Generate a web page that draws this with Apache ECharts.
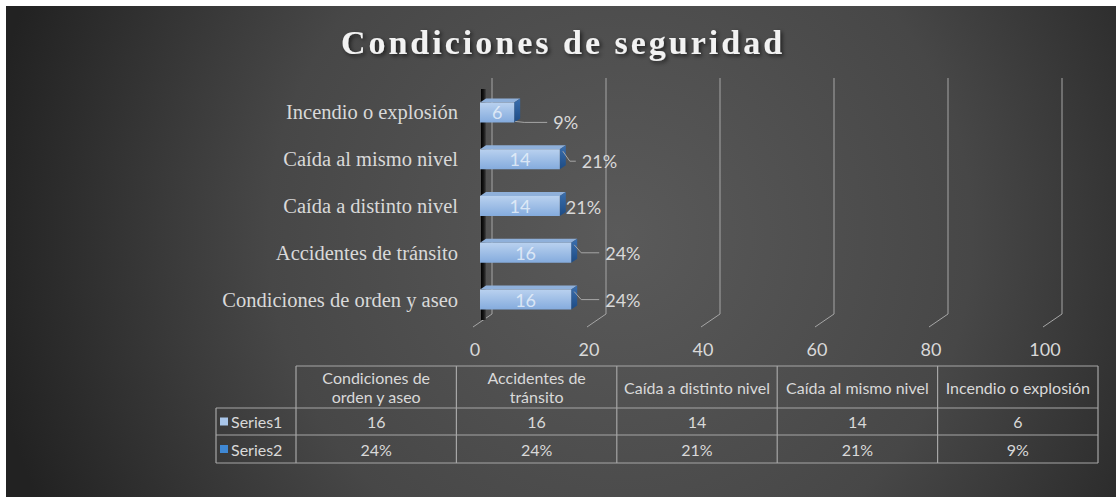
<!DOCTYPE html>
<html lang="es">
<head>
<meta charset="UTF-8">
<title>Condiciones de seguridad</title>
<script src="https://cdn.jsdelivr.net/npm/echarts@6/dist/echarts.min.js"></script>
<style>
  html, body { margin: 0; padding: 0; background: #fff; }
  #main { width: 1116px; height: 497px; }
</style>
</head>
<body>
<div id="main"></div>
<script>
var titleText = 'Condiciones de seguridad';
var categories = ['Condiciones de orden y aseo', 'Accidentes de tránsito', 'Caída a distinto nivel', 'Caída al mismo nivel', 'Incendio o explosión'];
var series1 = [16, 16, 14, 14, 6];
var series2 = [24, 24, 21, 21, 9];   // percent
var xTicks = [0, 20, 40, 60, 80, 100];
var seriesNames = ['Series1', 'Series2'];
// header cells of the data table, wrapped the way Excel wrapped them
var tableHeaders = ['Condiciones de\norden y aseo', 'Accidentes de\ntránsito', 'Caída a distinto nivel', 'Caída al mismo nivel', 'Incendio o explosión'];

// where Excel left each percent label: [dx from bar end, dy from bar centre]
var pctNudge = [[34, 0], [34, 0], [6, 1], [22, 2], [39, 10]];

var sansFont = 'Lato';
var serifFont = '"Liberation Serif"';
var textColor = '#d9d9d9';
var lineColor = '#a6a6a6';

var chart = echarts.init(document.getElementById('main'), null, { renderer: 'svg' });

// 3d wall: vertical lines on the back wall, slanted floor lines, black left wall
function renderWall(params, api) {
  var rect = params.coordSys;
  var v = api.value(0);
  var x = api.coord([v, 0])[0];
  var bx = x + 12;
  var top = rect.y - 11;
  var floor = rect.y + rect.height - 9;
  var children = [{
    type: 'polyline',
    shape: { points: [[bx, top], [bx, floor], [bx - 19, floor + 13]] },
    style: { stroke: lineColor, lineWidth: 1, fill: null }
  }];
  if (v === 0) {
    children.push({
      type: 'rect',
      shape: { x: x + 1, y: rect.y, width: 5, height: rect.height - 3 },
      style: {
        fill: new echarts.graphic.LinearGradient(0, 0, 1, 0, [
          { offset: 0, color: '#000' },
          { offset: 0.6, color: '#1a1a1a' },
          { offset: 1, color: '#444' }
        ])
      }
    });
  }
  return { type: 'group', children: children };
}

function renderBar(params, api) {
  var v = api.value(0);
  var i = api.value(1);
  var p0 = api.coord([0, i]);
  var p1 = api.coord([v, i]);
  var h = 20, dx = 6, dy = 4;
  var x0 = p0[0], x1 = p1[0];
  var yt = p0[1] - h / 2, yb = p0[1] + h / 2;
  return {
    type: 'group',
    children: [
      {
        type: 'polygon',
        shape: { points: [[x0, yt], [x1, yt], [x1 + dx, yt - dy], [x0 + dx, yt - dy]] },
        style: { fill: '#8fb0da' }
      },
      {
        type: 'polygon',
        shape: { points: [[x1, yt], [x1 + dx, yt - dy], [x1 + dx, yb - dy], [x1, yb]] },
        style: {
          fill: new echarts.graphic.LinearGradient(0, 0, 0, 1, [
            { offset: 0, color: '#3b6fae' },
            { offset: 1, color: '#1d4b84' }
          ])
        }
      },
      {
        type: 'rect',
        shape: { x: x0, y: yt, width: x1 - x0, height: h },
        style: {
          fill: new echarts.graphic.LinearGradient(0, 0, 0, 1, [
            { offset: 0, color: '#b9d1ef' },
            { offset: 1, color: '#84abdd' }
          ])
        }
      },
      {
        type: 'text',
        x: (x0 + x1) / 2,
        y: p0[1],
        style: {
          text: String(v),
          fill: 'rgba(236,243,251,0.8)',
          font: '18px ' + sansFont,
          align: 'center',
          verticalAlign: 'middle'
        }
      }
    ]
  };
}

function renderPct(params, api) {
  var i = api.value(1);
  var end = api.coord([api.value(0), i]);
  var nudge = pctNudge[i];
  var x1 = end[0];
  var yc = end[1];
  var ty = yc + nudge[1];
  var children = [];
  if (nudge[0] > 15) {
    var start = nudge[1] > 5 ? [x1 + 1, yc + 9] : [x1 + 3, yc - 8];
    children.push({
      type: 'polyline',
      shape: { points: [start, [x1 + 10, ty], [x1 + nudge[0] - 6, ty]] },
      style: { stroke: lineColor, lineWidth: 1, fill: null }
    });
  }
  children.push({
    type: 'text',
    x: x1 + nudge[0],
    y: ty,
    style: {
      text: api.value(2) + '%',
      fill: textColor,
      font: '18px ' + sansFont,
      align: 'left',
      verticalAlign: 'middle'
    }
  });
  return { type: 'group', children: children };
}

// data table under the plot
var tableLeft = 216, labelRight = 296, colW = 160.4;
var rowY = [366, 408, 435, 463];
var tableRight = labelRight + colW * categories.length;
var tableEls = [];

function hLine(x1, x2, y) {
  tableEls.push({ type: 'line', shape: { x1: x1, y1: y, x2: x2, y2: y }, style: { stroke: lineColor, lineWidth: 1.2 } });
}
function vLine(x, y1, y2) {
  tableEls.push({ type: 'line', shape: { x1: x, y1: y1, x2: x, y2: y2 }, style: { stroke: lineColor, lineWidth: 1.2 } });
}
function cellText(txt, cx, cy) {
  tableEls.push({
    type: 'text', x: cx, y: cy,
    style: { text: txt, fill: textColor, font: '16px ' + sansFont, align: 'center', verticalAlign: 'middle', lineHeight: 19 }
  });
}

hLine(labelRight, tableRight, rowY[0]);
hLine(tableLeft, tableRight, rowY[1]);
hLine(tableLeft, tableRight, rowY[2]);
hLine(tableLeft, tableRight, rowY[3]);
vLine(tableLeft, rowY[1], rowY[3]);
for (var c = 0; c <= categories.length; c++) {
  vLine(labelRight + colW * c, rowY[0], rowY[3]);
}
tableHeaders.forEach(function (h, k) {
  cellText(h, labelRight + colW * (k + 0.5), (rowY[0] + rowY[1]) / 2);
});
series1.forEach(function (v, k) {
  cellText(String(v), labelRight + colW * (k + 0.5), (rowY[1] + rowY[2]) / 2);
});
series2.forEach(function (v, k) {
  cellText(v + '%', labelRight + colW * (k + 0.5), (rowY[2] + rowY[3]) / 2);
});
var keyColors = ['#a9c6ea', '#3f88d4'];
seriesNames.forEach(function (name, k) {
  var cy = (rowY[k + 1] + rowY[k + 2]) / 2;
  tableEls.push({ type: 'rect', shape: { x: 220, y: cy - 4, width: 8, height: 8 }, style: { fill: keyColors[k] } });
  tableEls.push({
    type: 'text', x: 231, y: cy,
    style: { text: name, fill: textColor, font: '16px ' + sansFont, align: 'left', verticalAlign: 'middle' }
  });
});

var background = {
  type: 'rect',
  z: -10,
  shape: { x: 6, y: 6, width: 1110, height: 491 },
  style: {
    fill: new echarts.graphic.RadialGradient(620, 235, 640, [
      { offset: 0, color: '#5a5a5a' },
      { offset: 0.55, color: '#474747' },
      { offset: 1, color: '#222222' }
    ], true)
  }
};

var option = {
  backgroundColor: '#fff',
  animation: false,
  title: {
    text: titleText,
    left: 563,
    top: 25,
    padding: 0,
    textAlign: 'center',
    textStyle: {
      color: '#f2f2f2',
      fontFamily: serifFont,
      fontWeight: 'bold',
      fontSize: 34,
      textShadowColor: 'rgba(0,0,0,0.6)',
      textShadowBlur: 4,
      textShadowOffsetX: 2,
      textShadowOffsetY: 2
    }
  },
  graphic: { elements: [background].concat(tableEls) },
  grid: { left: 480, right: 66, top: 89, height: 234 },
  xAxis: {
    type: 'value',
    min: 0,
    max: 100,
    interval: 20,
    axisLine: { show: false },
    axisTick: { show: false },
    splitLine: { show: false },
    axisLabel: {
      color: textColor,
      fontFamily: sansFont,
      fontSize: 18,
      margin: 17,
      padding: [0, 10, 0, 0]
    }
  },
  yAxis: {
    type: 'category',
    data: categories,
    axisLine: { show: false },
    axisTick: { show: false },
    axisLabel: {
      color: textColor,
      fontFamily: serifFont,
      fontSize: 20.5,
      margin: 22
    }
  },
  series: [
    {
      name: 'wall',
      type: 'custom',
      renderItem: renderWall,
      data: xTicks.map(function (v) { return [v]; }),
      encode: { x: 0 },
      silent: true,
      z: 1
    },
    {
      name: seriesNames[0],
      type: 'custom',
      renderItem: renderBar,
      data: series1.map(function (v, i) { return [v, i]; }),
      encode: { x: 0, y: 1 },
      z: 3
    },
    {
      name: seriesNames[1],
      type: 'custom',
      renderItem: renderPct,
      data: series2.map(function (v, i) { return [series1[i], i, v]; }),
      encode: { x: 0, y: 1 },
      z: 4
    }
  ]
};

chart.setOption(option);

// Excel spaces the title letters out; svg text can do that
function spaceTitle() {
  var nodes = document.querySelectorAll('#main text');
  for (var k = 0; k < nodes.length; k++) {
    if (nodes[k].textContent === titleText) {
      nodes[k].setAttribute('letter-spacing', '3px');
    }
  }
}
chart.on('finished', spaceTitle);
spaceTitle();
setTimeout(spaceTitle, 50);
</script>
</body>
</html>
